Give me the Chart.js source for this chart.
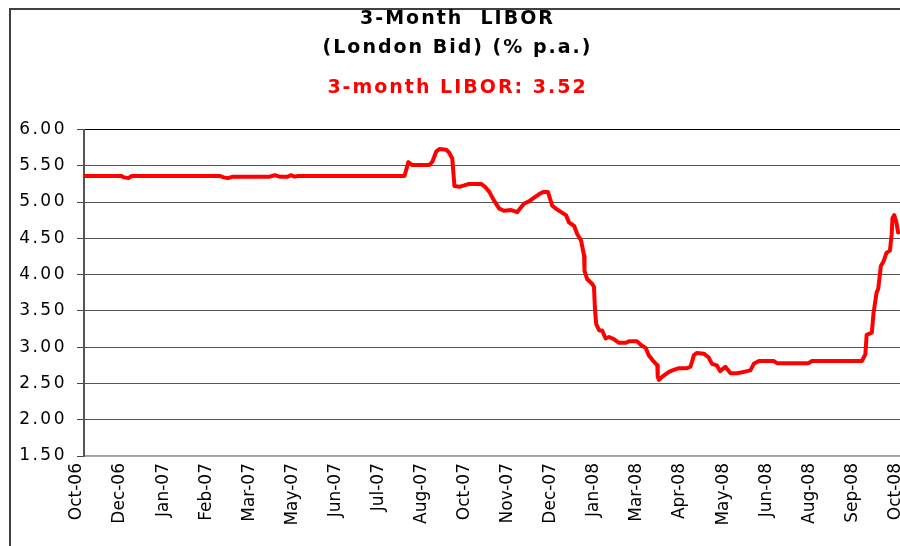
<!DOCTYPE html>
<html>
<head>
<meta charset="utf-8">
<script src="https://cdn.jsdelivr.net/npm/chart.js"></script>
<style>
  html, body { margin: 0; padding: 0; background: #fff; overflow: hidden; width: 900px; height: 546px; }
  #frame { position: absolute; left: 9px; top: 8px; width: 1200px; height: 800px; border: 2px solid #404040; }
  #chart { position: absolute; left: 0; top: 0; }
</style>
</head>
<body>
<div id="frame"></div>
<canvas id="chart" width="930" height="546"></canvas>
<script>
// tick labels along the bottom, one per unit of xPos
const xLabels = ["Oct-06", "Dec-06", "Jan-07", "Feb-07", "Mar-07", "May-07", "Jun-07", "Jul-07", "Aug-07", "Oct-07",
  "Nov-07", "Dec-07", "Jan-08", "Mar-08", "Apr-08", "May-08", "Jun-08", "Aug-08", "Sep-08", "Oct-08"];

// position of each reading, in label steps from Oct-06
const xPos = [0.00, 0.87, 0.93, 1.03, 1.11, 3.15, 3.24, 3.34, 3.46, 4.31,
  4.43, 4.54, 4.73, 4.80, 4.89, 4.97, 7.44, 7.53, 7.62, 8.02,
  8.09, 8.18, 8.25, 8.41, 8.48, 8.53, 8.55, 8.60, 8.71, 8.83,
  8.94, 9.22, 9.31, 9.41, 9.52, 9.64, 9.75, 9.92, 10.06, 10.12,
  10.22, 10.33, 10.45, 10.57, 10.66, 10.77, 10.87, 10.98, 11.08, 11.19,
  11.26, 11.38, 11.45, 11.54, 11.57, 11.61, 11.62, 11.68, 11.80, 11.84,
  11.86, 11.89, 11.96, 12.03, 12.11, 12.19, 12.30, 12.42, 12.58, 12.65,
  12.84, 12.93, 13.04, 13.11, 13.23, 13.31, 13.32, 13.35, 13.42, 13.58,
  13.66, 13.81, 14.00, 14.08, 14.16, 14.23, 14.39, 14.50, 14.58, 14.69,
  14.77, 14.89, 15.01, 15.16, 15.32, 15.47, 15.55, 15.67, 16.01, 16.09,
  16.82, 16.90, 17.05, 18.06, 18.14, 18.17, 18.29, 18.33, 18.40, 18.44,
  18.50, 18.56, 18.63, 18.71, 18.75, 18.77, 18.81, 18.86, 18.90];

// 3-month LIBOR, % p.a.
const rate = [5.36, 5.36, 5.34, 5.33, 5.36, 5.36, 5.34, 5.33, 5.35, 5.35,
  5.37, 5.35, 5.35, 5.37, 5.35, 5.36, 5.36, 5.55, 5.51, 5.51,
  5.56, 5.70, 5.73, 5.72, 5.68, 5.62, 5.60, 5.22, 5.21, 5.23,
  5.25, 5.25, 5.21, 5.14, 5.02, 4.91, 4.88, 4.89, 4.86, 4.91,
  4.98, 5.01, 5.06, 5.11, 5.14, 5.14, 4.95, 4.90, 4.86, 4.82,
  4.72, 4.67, 4.56, 4.47, 4.38, 4.26, 4.05, 3.94, 3.87, 3.83,
  3.55, 3.32, 3.23, 3.23, 3.12, 3.14, 3.11, 3.06, 3.06, 3.08,
  3.08, 3.03, 2.99, 2.89, 2.80, 2.75, 2.59, 2.55, 2.59, 2.66,
  2.68, 2.71, 2.71, 2.73, 2.89, 2.92, 2.91, 2.86, 2.77, 2.75,
  2.67, 2.73, 2.64, 2.64, 2.66, 2.68, 2.77, 2.81, 2.81, 2.78,
  2.78, 2.81, 2.81, 2.81, 2.90, 3.17, 3.20, 3.47, 3.75, 3.81,
  4.12, 4.18, 4.30, 4.33, 4.55, 4.78, 4.82, 4.72, 4.58];

const latest = 3.52;

Chart.defaults.font.family = "'DejaVu Sans', 'Liberation Sans', Arial, sans-serif";
Chart.defaults.color = "#000";

// old Excel text is drawn wide, so open up the letters a little
const letterSpacing = {
  id: "letterSpacing",
  beforeLayout(chart) {
    chart.boxes.forEach((box) => {
      if (box._spaced) return;
      const gap = box.id === "x" ? "0px" : box.id === "y" ? "2.5px" : "2px";
      const draw = box.draw;
      box.draw = function (area) {
        this.ctx.save();
        this.ctx.letterSpacing = gap;
        draw.call(this, area);
        this.ctx.restore();
      };
      box._spaced = true;
    });
  },
};

new Chart(document.getElementById("chart"), {
  type: "line",
  data: {
    datasets: [
      {
        label: "3-month LIBOR",
        data: xPos.map((x, i) => ({ x: x, y: rate[i] })),
        borderColor: "#ff0000",
        borderWidth: 4,
        pointRadius: 0,
        borderCapStyle: "round",
        borderJoinStyle: "round",
        tension: 0,
      },
    ],
  },
  options: {
    responsive: false,
    animation: false,
    layout: { padding: { left: 0, right: 15, top: 0, bottom: 0 }, autoPadding: false },
    plugins: {
      legend: { display: false },
      tooltip: { enabled: false },
      title: {
        display: true,
        text: ["3-Month  LIBOR", "(London Bid) (% p.a.)"],
        color: "#000",
        font: { size: 19, weight: "bold", lineHeight: 1.5 },
        padding: { top: 5, bottom: 6 },
      },
      subtitle: {
        display: true,
        text: "3-month LIBOR: " + latest.toFixed(2),
        color: "#ff0000",
        font: { size: 19, weight: "bold", lineHeight: 1.5 },
        padding: { top: 6, bottom: 27 },
      },
    },
    scales: {
      x: {
        type: "linear",
        min: 0,
        max: 19.25,
        afterFit: (scale) => { scale.height = 90; },
        grid: { display: false, drawTicks: false },
        border: { display: true, color: "#a0a0a0", width: 1.5 },
        ticks: {
          stepSize: 1,
          includeBounds: false,
          autoSkip: false,
          maxRotation: 90,
          minRotation: 90,
          padding: 7,
          labelOffset: -7,
          font: { size: 17 },
          callback: (v) => xLabels[Math.round(v)],
        },
      },
      y: {
        min: 1.5,
        max: 6,
        afterFit: (scale) => { scale.width = 84; },
        grid: {
          color: (c) => (c.tick.value === 6 ? "#000" : c.tick.value === 1.5 ? "#a6a6a6" : "#555"),
          tickColor: "#444",
          tickLength: 7,
        },
        border: { color: "#555", width: 2 },
        ticks: {
          stepSize: 0.5,
          padding: 10,
          font: { size: 17 },
          callback: (v) => v.toFixed(2),
        },
      },
    },
  },
  plugins: [letterSpacing],
});
</script>
</body>
</html>
